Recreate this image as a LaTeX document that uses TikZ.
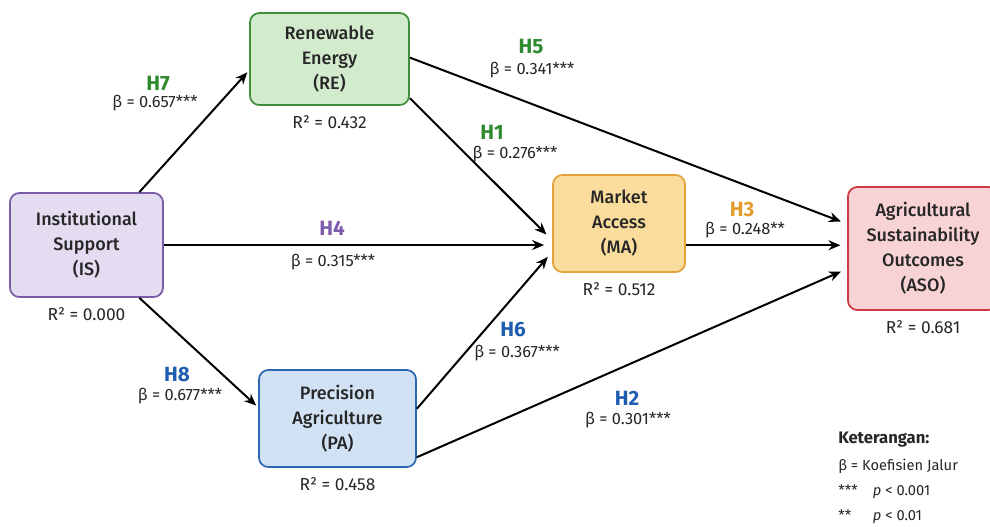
\documentclass[tikz,border=0pt]{standalone}
\usepackage{fontspec}
\setmainfont{Fira Sans}
\newfontfamily\boxfont{Fira Sans Medium}
\usetikzlibrary{arrows.meta, positioning}

\definecolor{isfill}{HTML}{E4DCF0}
\definecolor{isdraw}{HTML}{7A5BA6}
\definecolor{refill}{HTML}{D3EBCD}
\definecolor{redraw}{HTML}{3E8E3B}
\definecolor{pafill}{HTML}{D2E2F5}
\definecolor{padraw}{HTML}{2C68B0}
\definecolor{mafill}{HTML}{FADD9C}
\definecolor{madraw}{HTML}{E3A23A}
\definecolor{asofill}{HTML}{F8D3D5}
\definecolor{asodraw}{HTML}{CF3A42}
\definecolor{hgreen}{HTML}{2F8A2F}
\definecolor{hpurple}{HTML}{7C5CAB}
\definecolor{hblue}{HTML}{1F5DAE}
\definecolor{horange}{HTML}{E39B2E}
\definecolor{txt}{HTML}{262626}

\begin{document}
\begin{tikzpicture}[x=0.75pt, y=-0.75pt,
	var/.style={draw, rounded corners=7pt, line width=1.3pt, align=center, inner sep=0pt,
		font=\boxfont\fontsize{13.5}{18.75}\selectfont, text=txt},
	hyp/.style={font=\bfseries\fontsize{15.5}{17}\selectfont, inner sep=0pt},
	coef/.style={font=\fontsize{12.3}{14}\selectfont, text=txt, inner sep=0pt},
	keytext/.style={font=\fontsize{11}{13}\selectfont, text=txt, inner sep=0pt, anchor=west},
	rsq/.style={font=\fontsize{13}{15}\selectfont, text=txt, inner sep=0pt, below=7pt of #1},
	effect/.style={-{Stealth[length=9pt, width=7.5pt]}, line width=1.5pt},
	]
	\useasboundingbox (0,0) rectangle (990,526);

	% constructs
	\node[var, fill=isfill, draw=isdraw, minimum width=114.75pt, minimum height=78pt] (is) at (86.5,245) {Institutional\\Support\\(IS)};
	\node[var, fill=refill, draw=redraw, minimum width=119.25pt, minimum height=69pt] (re) at (329.5,59) {Renewable\\Energy\\(RE)};
	\node[var, fill=pafill, draw=padraw, minimum width=117.75pt, minimum height=72.75pt] (pa) at (337.5,418.5) {Precision\\Agriculture\\(PA)};
	\node[var, fill=mafill, draw=madraw, minimum width=99pt, minimum height=72.75pt] (ma) at (619,223.5) {Market\\Access\\(MA)};
	\node[var, fill=asofill, draw=asodraw, minimum width=112.5pt, minimum height=92.25pt] (aso) at (923,248.5) {Agricultural\\Sustainability\\Outcomes\\(ASO)};

	% R squared
	\node[rsq=is] (is-r) {R² = 0.000};
	\node[rsq=re] (re-r) {R² = 0.432};
	\node[rsq=pa] (pa-r) {R² = 0.458};
	\node[rsq=ma] (ma-r) {R² = 0.512};
	\node[rsq=aso] (aso-r) {R² = 0.681};

	% paths
	\path [effect]
		(is.45) edge[shorten >=2pt] (re.188)
		(is.east) edge[shorten >=6pt] (is.east -| ma.west)
		(is.-45) edge[shorten >=2pt] (pa.172.7)
		(re.-26) edge[shorten >=6pt] (ma.194)
		(re.1.5) edge[shorten >=5pt] (aso.162)
		(pa.7.3) edge[shorten >=5pt] (ma.203)
		(pa.-26.4) edge[shorten >=5pt] (aso.195.6)
		(ma.-18.4) edge[shorten >=5pt] (ma.-18.4 -| aso.west)
		;

	% hypothesis labels
	\node[hyp, text=hgreen] (h7) at (158,83) {H7};
	\node[coef] (b7) at (155,103) {β = 0.657***};
	\node[hyp, text=hgreen] (h5) at (531,47) {H5};
	\node[coef] (b5) at (532,70) {β = 0.341***};
	\node[hyp, text=hgreen] (h1) at (492,132) {H1};
	\node[coef] (b1) at (515,154) {β = 0.276***};
	\node[hyp, text=hpurple] (h4) at (332,228) {H4};
	\node[coef] (b4) at (333,262) {β = 0.315***};
	\node[hyp, text=horange] (h3) at (742,210) {H3};
	\node[coef] (b3) at (745,230) {β = 0.248**};
	\node[hyp, text=hblue] (h8) at (177,375) {H8};
	\node[coef] (b8) at (180,396) {β = 0.677***};
	\node[hyp, text=hblue] (h6) at (513,330) {H6};
	\node[coef] (b6) at (517,353) {β = 0.367***};
	\node[hyp, text=hblue] (h2) at (627,398) {H2};
	\node[coef] (b2) at (628,420) {β = 0.301***};

	% legend
	\node[keytext, font=\bfseries\fontsize{12.5}{14}\selectfont] (key) at (838,440) {Keterangan:};
	\node[keytext] (key-b) at (838,466) {β = Koefisien Jalur};
	\node[keytext] (key-3) at (838,492) {\makebox[26pt][l]{***}\textit{p} < 0.001};
	\node[keytext] (key-2) at (838,517) {\makebox[26pt][l]{**}\textit{p} < 0.01};
\end{tikzpicture}
\end{document}
